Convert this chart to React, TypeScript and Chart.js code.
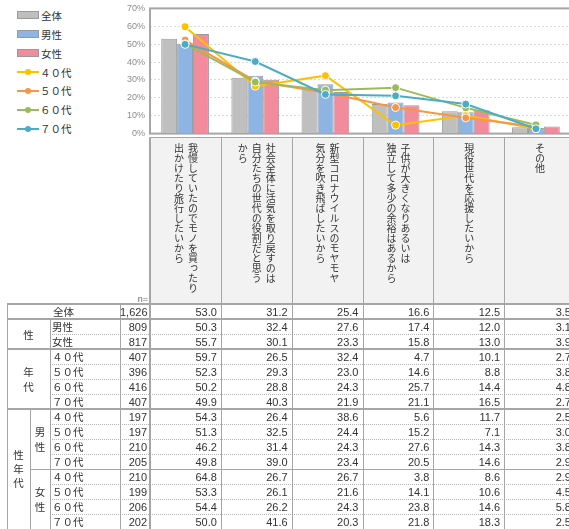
import React, { useEffect, useRef } from "react";
import { Chart, registerables } from "chart.js";
Chart.register(...registerables);

const categories = [
  "我慢していたのでモノを買ったり\n出かけたり旅行したいから",
  "社会全体に活気を取り戻すのは\n自分たちの世代の役割だと思う\nから",
  "新型コロナウイルスのモヤモヤ\n気分を吹き飛ばしたいから",
  "子供が大きくなりあるいは\n独立して多少の余裕はあるから",
  "現役世代を応援したいから",
  "その他",
];
const yTicks = [0, 10, 20, 30, 40, 50, 60, 70];

const barNames = ["全体", "男性", "女性"];
const lineNames = ["４０代", "５０代", "６０代", "７０代"];

const seriesAll = [53.0, 31.2, 25.4, 16.6, 12.5, 3.5];
const seriesMale = [50.3, 32.4, 27.6, 17.4, 12.0, 3.1];
const seriesFemale = [55.7, 30.1, 23.3, 15.8, 13.0, 3.9];
const series40 = [59.7, 26.5, 32.4, 4.7, 10.1, 2.7];
const series50 = [52.3, 29.3, 23.0, 14.6, 8.8, 3.8];
const series60 = [50.2, 28.8, 24.3, 25.7, 14.4, 4.8];
const series70 = [49.9, 40.3, 21.9, 21.1, 16.5, 2.7];
const male40 = [54.3, 26.4, 38.6, 5.6, 11.7, 2.5];
const male50 = [51.3, 32.5, 24.4, 15.2, 7.1, 3.0];
const male60 = [46.2, 31.4, 24.3, 27.6, 14.3, 3.8];
const male70 = [49.8, 39.0, 23.4, 20.5, 14.6, 2.9];
const female40 = [64.8, 26.7, 26.7, 3.8, 8.6, 2.9];
const female50 = [53.3, 26.1, 21.6, 14.1, 10.6, 4.5];
const female60 = [54.4, 26.2, 24.3, 23.8, 14.6, 5.8];
const female70 = [50.0, 41.6, 20.3, 21.8, 18.3, 2.5];

const rowNames = ["全体", "男性", "女性", "４０代", "５０代", "６０代", "７０代", "４０代", "５０代", "６０代", "７０代", "４０代", "５０代", "６０代", "７０代"];
const rowN = [1626, 809, 817, 407, 396, 416, 407, 197, 197, 210, 205, 210, 199, 206, 202];
const rowValues = [seriesAll, seriesMale, seriesFemale, series40, series50, series60, series70, male40, male50, male60, male70, female40, female50, female60, female70];
const groupLabels = ["性", "年\n代", "性\n年\n代"];
const subGroupLabels = ["男\n性", "女\n性"];

const barColors = ["#bfbfbf", "#8db4e2", "#f28b9c"];
const lineColors = ["#ffc000", "#f79646", "#9bbb59", "#4bacc6"];

const JP = '"Noto Sans CJK JP", "Noto Sans", sans-serif';
const NUM = '"Liberation Sans", "DejaVu Sans", sans-serif';

const PL = 150;
const PR = 575;
const CW = (PR - PL) / 6;
const TOP = 304;
const RH = 15;
const LINE = "#a6a6a6";

export default function App() {
  const ref = useRef<HTMLCanvasElement | null>(null);
  useEffect(() => {
    if (!ref.current) return;
    const framePlugin = {
      id: "frame",
      beforeDatasetsDraw(chart: any) {
        const { ctx, chartArea: a } = chart;
        ctx.save();
        ctx.strokeStyle = LINE;
        ctx.lineWidth = 2;
        ctx.strokeRect(a.left, a.top, a.right - a.left, a.bottom - a.top);
        ctx.restore();
      },
    };
    const bars = [seriesAll, seriesMale, seriesFemale].map((d, i) => ({
      type: "bar" as const,
      label: barNames[i],
      data: d,
      backgroundColor: barColors[i],
      borderColor: "#9a9a9a",
      borderWidth: 1,
      categoryPercentage: 0.68,
      barPercentage: 1.0,
      order: 10,
    }));
    const lines = [series40, series50, series60, series70].map((d, i) => ({
      type: "line" as const,
      label: lineNames[i],
      data: d,
      borderColor: lineColors[i],
      backgroundColor: lineColors[i],
      borderWidth: 2,
      pointRadius: 4,
      pointBorderColor: "#ffffff",
      pointBorderWidth: 1,
      tension: 0,
      order: 4 - i,
    }));
    const chart = new Chart(ref.current, {
      type: "bar",
      data: { labels: categories, datasets: [...bars, ...lines] as any },
      options: {
        animation: false,
        responsive: false,
        devicePixelRatio: 1,
        layout: { padding: { top: 0, bottom: 0, right: 1, left: 0 } },
        plugins: { legend: { display: false }, tooltip: { enabled: false } },
        scales: {
          x: { display: false },
          y: {
            min: yTicks[0],
            max: yTicks[yTicks.length - 1],
            afterBuildTicks: (s: any) => {
              s.ticks = yTicks.map((v) => ({ value: v }));
            },
            afterFit: (s: any) => {
              s.width = 50;
            },
            ticks: {
              callback: (v: any) => v + "%",
              font: { size: 9, family: NUM },
              color: "#8c8c8c",
              padding: 5,
            },
            grid: { color: "#d9d9d9", drawTicks: false },
            border: { display: false, dash: [2, 2] },
          },
        },
      },
      plugins: [framePlugin],
    });
    return () => chart.destroy();
  }, []);

  const abs = (s: React.CSSProperties): React.CSSProperties => ({ position: "absolute", ...s });
  const hLine = (y: number, x1: number, style: "thick" | "thin" | "dot", key: string) => (
    <div
      key={key}
      style={abs({
        left: x1,
        top: style === "thick" ? y - 1 : y,
        width: 577 - x1,
        height: 0,
        borderTop: style === "thick" ? `2px solid ${LINE}` : style === "thin" ? `1px solid ${LINE}` : `1px dotted #b4b4b4`,
      })}
    />
  );
  const vLine = (x: number, y1: number, y2: number, w: number, key: string) => (
    <div key={key} style={abs({ left: x - (w > 1 ? 1 : 0), top: y1, width: w, height: y2 - y1, background: LINE })} />
  );

  const hLines: React.ReactNode[] = [];
  for (let r = 0; r <= 15; r++) {
    const y = TOP + r * RH;
    if (r === 0 || r === 1 || r === 3 || r === 7) hLines.push(hLine(y, 7, "thick", "h" + r));
    else if (r === 11) hLines.push(hLine(y, 30, "thin", "h" + r));
    else if (r < 15) hLines.push(hLine(y, 50, "dot", "h" + r));
  }

  const centerLabel = (text: string, x1: number, x2: number, r1: number, r2: number, key: string, lh = 15) => (
    <div
      key={key}
      style={abs({
        left: x1,
        top: TOP + r1 * RH,
        width: x2 - x1,
        height: (r2 - r1) * RH,
        display: "flex",
        alignItems: "center",
        justifyContent: "center",
        whiteSpace: "pre",
        textAlign: "center",
        lineHeight: lh + "px",
        fontFamily: JP,
        fontSize: 10.5,
        color: "#333",
      })}
    >
      {text}
    </div>
  );

  return (
    <div style={abs({ left: 0, top: 0, width: 569, height: 529, overflow: "hidden", background: "#fff" })}>
      {/* legend */}
      {barNames.map((n, i) => (
        <div key={"lb" + i} style={abs({ left: 17, top: 15 + i * 19 - 8, height: 16, display: "flex", alignItems: "center" })}>
          <div style={{ width: 20, height: 6, background: barColors[i], border: "1px solid #9a9a9a" }} />
          <span style={{ marginLeft: 2, fontFamily: JP, fontSize: 10.5, color: "#333" }}>{n}</span>
        </div>
      ))}
      {lineNames.map((n, i) => (
        <div key={"ll" + i} style={abs({ left: 17, top: 72 + i * 18.9 - 8, height: 16, display: "flex", alignItems: "center" })}>
          <div style={{ position: "relative", width: 22, height: 16 }}>
            <div style={abs({ left: 0, top: 7, width: 22, height: 2, background: lineColors[i] })} />
            <div style={abs({ left: 8, top: 5, width: 6, height: 6, borderRadius: 3, background: lineColors[i] })} />
          </div>
          <span style={{ marginLeft: 1, fontFamily: JP, fontSize: 10.5, color: "#333" }}>{n}</span>
        </div>
      ))}

      <canvas ref={ref} width={476} height={146} style={abs({ left: 100, top: -2, width: 476, height: 146 })} />

      {/* category label area */}
      <div style={abs({ left: PL, top: 137, width: PR - PL, height: TOP - 137, background: "#f2f2f2", borderTop: `1px solid ${LINE}`, boxSizing: "border-box" })} />
      {categories.map((c, i) => (
        <div
          key={"c" + i}
          style={abs({
            left: PL + i * CW,
            top: 138,
            width: CW,
            height: TOP - 138,
            display: "flex",
            justifyContent: "center",
            alignItems: "flex-start",
            paddingTop: 5,
            boxSizing: "border-box",
          })}
        >
          <div style={{ writingMode: "vertical-rl", whiteSpace: "pre", fontFamily: JP, fontSize: 10, lineHeight: "14px", color: "#333" }}>{c}</div>
        </div>
      ))}
      <div style={abs({ left: 120, top: 294, width: 28, textAlign: "right", fontFamily: NUM, fontSize: 9, color: "#666" })}>n=</div>

      {/* table lines */}
      {hLines}
      {vLine(7, TOP, 529, 1, "v0")}
      {vLine(50, TOP + RH, 529, 1, "v1")}
      {vLine(30, TOP + 7 * RH, 529, 1, "v2")}
      {vLine(120, TOP, 529, 1, "v3")}
      {vLine(PL, 137, 529, 2, "v4")}
      {categories.map((_, i) => vLine(Math.round(PL + (i + 1) * CW), 137, 529, 1, "vc" + i))}

      {/* table labels */}
      {centerLabel(rowNames[0], 7, 120, 0, 1, "all")}
      {centerLabel(groupLabels[0], 7, 50, 1, 3, "g0")}
      {centerLabel(groupLabels[1], 7, 50, 3, 7, "g1")}
      {centerLabel(groupLabels[2], 7, 30, 7, 15, "g2", 14)}
      {centerLabel(subGroupLabels[0], 30, 50, 7, 11, "s0")}
      {centerLabel(subGroupLabels[1], 30, 50, 11, 15, "s1")}
      {rowNames.slice(1).map((n, k) => (
        <div key={"rn" + k} style={abs({ left: 52, top: TOP + (k + 1) * RH, height: RH, lineHeight: RH + "px", fontFamily: JP, fontSize: 10.5, color: "#333", whiteSpace: "pre" })}>
          {n}
        </div>
      ))}
      {rowN.map((n, r) => (
        <div key={"n" + r} style={abs({ left: 120, top: TOP + r * RH, width: 27, height: RH, lineHeight: RH + 1 + "px", textAlign: "right", fontFamily: NUM, fontSize: 11, color: "#333" })}>
          {n.toLocaleString("en-US")}
        </div>
      ))}
      {rowValues.map((vals, r) =>
        vals.map((v, i) => (
          <div
            key={"v" + r + "_" + i}
            style={abs({ left: PL + i * CW, top: TOP + r * RH, width: CW - 4, height: RH, lineHeight: RH + 1 + "px", textAlign: "right", fontFamily: NUM, fontSize: 11, color: "#333" })}
          >
            {v.toFixed(1)}
          </div>
        ))
      )}
    </div>
  );
}
